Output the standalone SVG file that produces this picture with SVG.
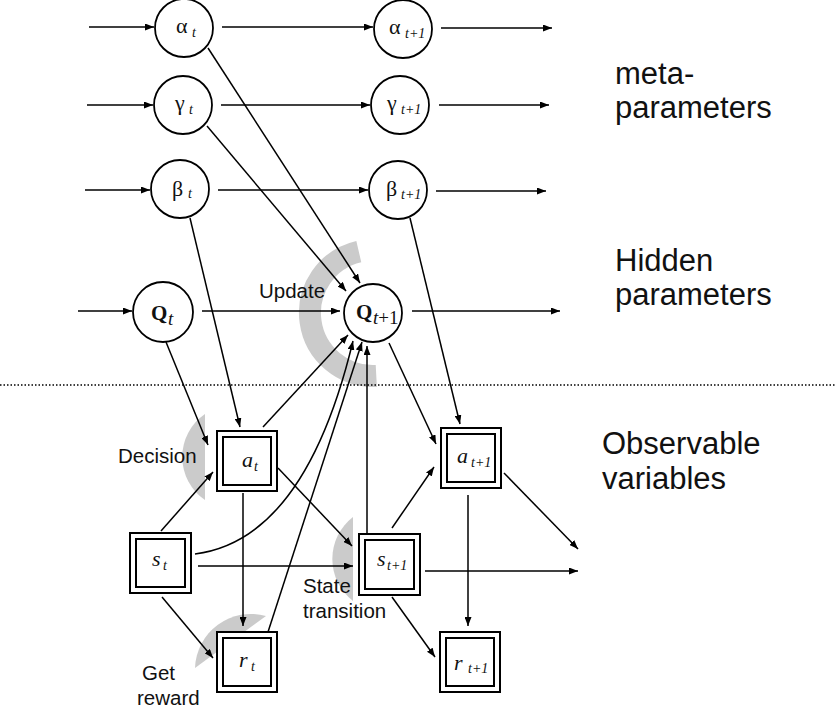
<svg xmlns="http://www.w3.org/2000/svg" width="835" height="715" viewBox="0 0 835 715">
  <style>
    .edge { stroke: #000; stroke-width: 1.5; fill: none; marker-end: url(#arrow); }
    .circ { fill: #fff; stroke: #000; stroke-width: 1.8; }
    .box { fill: #fff; stroke: #000; stroke-width: 2; }
    .shade { fill: #cbcbcb; stroke: none; }
    .ring { fill: none; stroke: #cbcbcb; stroke-width: 22; }
    .greek { font-family: "Liberation Serif", "Times New Roman", serif; font-size: 22px; fill: #111; }
    .var { font-family: "Liberation Serif", "Times New Roman", serif; font-style: italic; font-size: 22px; fill: #111; }
    .sub { font-family: "Liberation Serif", "Times New Roman", serif; font-style: italic; font-size: 14px; fill: #111; }
    .qbold { font-family: "Liberation Serif", "Times New Roman", serif; font-weight: bold; font-size: 21px; fill: #111; }
    .qsub { font-family: "Liberation Serif", "Times New Roman", serif; font-size: 19px; fill: #111; }
    .note { font-family: "Liberation Sans", Arial, sans-serif; font-size: 20.5px; fill: #111; }
    .layer { font-family: "Liberation Sans", Arial, sans-serif; font-size: 31px; fill: #111; }
  </style>
  <defs>
    <marker id="arrow" markerUnits="userSpaceOnUse" markerWidth="9" markerHeight="7" refX="9" refY="3.5" orient="auto">
      <path d="M0,0 L9,3.5 L0,7 Z" fill="#000"/>
    </marker>
  </defs>

  <!-- process highlights -->
  <g id="highlights">
    <path class="ring" d="M358.8,251.6 A63,63 0 0 0 376.3,375.9"/>
    <path class="shade" d="M205,414 A52,52 0 0 0 205,500 Z"/>
    <path class="shade" d="M353,517 A53,53 0 0 0 353,601 Z"/>
    <path class="shade" d="M195,668 A56,56 0 0 1 266,616 Z"/>
  </g>

  <!-- layer separator -->
  <line x1="0" y1="385" x2="835" y2="385" stroke="#000" stroke-width="1.3" stroke-dasharray="1.5 2"/>

  <g id="connectors">
    <!-- meta-parameter chains -->
    <line class="edge" x1="89" y1="27" x2="154" y2="27"/>
    <line class="edge" x1="222" y1="27" x2="373" y2="27"/>
    <line class="edge" x1="441" y1="28" x2="552" y2="28"/>
    <line class="edge" x1="87" y1="105" x2="153" y2="105"/>
    <line class="edge" x1="221" y1="105" x2="370" y2="105"/>
    <line class="edge" x1="439" y1="105" x2="549" y2="105"/>
    <line class="edge" x1="85" y1="190" x2="150" y2="190"/>
    <line class="edge" x1="218" y1="190" x2="368" y2="190"/>
    <line class="edge" x1="436" y1="191" x2="546" y2="191"/>
    <!-- meta-parameters into the update -->
    <line class="edge" x1="208" y1="48" x2="360" y2="283"/>
    <line class="edge" x1="207" y1="126" x2="346" y2="291"/>
    <!-- inverse temperature into decisions -->
    <line class="edge" x1="190" y1="218" x2="240" y2="427"/>
    <line class="edge" x1="410" y1="218" x2="460" y2="424"/>
    <!-- hidden chain -->
    <line class="edge" x1="78" y1="311" x2="132" y2="311"/>
    <line class="edge" x1="202" y1="311" x2="340" y2="311"/>
    <line class="edge" x1="412" y1="311" x2="560" y2="311"/>
    <line class="edge" x1="166" y1="342" x2="208" y2="445"/>
    <line class="edge" x1="389" y1="343" x2="436" y2="444"/>
    <!-- observations into the update -->
    <line class="edge" x1="263" y1="427" x2="348" y2="335"/>
    <path class="edge" d="M195,554 Q305,540 353,341"/>
    <line class="edge" x1="268" y1="632" x2="362" y2="342"/>
    <line class="edge" x1="367" y1="534" x2="367" y2="346"/>
    <!-- step t -->
    <line class="edge" x1="161" y1="531" x2="213" y2="472"/>
    <line class="edge" x1="198" y1="566" x2="353" y2="566"/>
    <line class="edge" x1="162" y1="597" x2="213" y2="658"/>
    <line class="edge" x1="243" y1="493" x2="243" y2="626"/>
    <line class="edge" x1="278" y1="468" x2="352" y2="546"/>
    <!-- step t+1 -->
    <line class="edge" x1="392" y1="528" x2="434" y2="467"/>
    <line class="edge" x1="392" y1="597" x2="435" y2="657"/>
    <line class="edge" x1="468" y1="495" x2="468" y2="626"/>
    <line class="edge" x1="504" y1="473" x2="578" y2="549"/>
    <line class="edge" x1="425" y1="571" x2="578" y2="571"/>
  </g>

  <!-- meta-parameters -->
  <g id="alpha-t">
    <circle class="circ" cx="184" cy="28" r="29"/>
    <text class="greek" x="176" y="33">α</text><text class="sub" x="192" y="37">t</text>
  </g>
  <g id="alpha-t1">
    <circle class="circ" cx="403" cy="29" r="29"/>
    <text class="greek" x="389" y="34">α</text><text class="sub" x="405" y="38">t+1</text>
  </g>
  <g id="gamma-t">
    <circle class="circ" cx="183" cy="105" r="29"/>
    <text class="greek" x="175" y="110">γ</text><text class="sub" x="189" y="114">t</text>
  </g>
  <g id="gamma-t1">
    <circle class="circ" cx="400" cy="105" r="29"/>
    <text class="greek" x="387" y="110">γ</text><text class="sub" x="401" y="114">t+1</text>
  </g>
  <g id="beta-t">
    <circle class="circ" cx="180" cy="189" r="29"/>
    <text class="greek" x="172" y="196">β</text><text class="sub" x="188" y="198">t</text>
  </g>
  <g id="beta-t1">
    <circle class="circ" cx="398" cy="190" r="29"/>
    <text class="greek" x="386" y="196">β</text><text class="sub" x="401" y="199">t+1</text>
  </g>

  <!-- hidden parameters -->
  <g id="q-t">
    <circle class="circ" cx="163" cy="312" r="30"/>
    <text class="qbold" x="151" y="320">Q</text><text class="qsub" x="168" y="325" font-style="italic">t</text>
  </g>
  <g id="q-t1">
    <circle class="circ" cx="373" cy="313" r="29"/>
    <text class="qbold" x="356" y="319">Q</text><text class="qsub" x="373" y="324"><tspan font-style="italic">t</tspan>+1</text>
  </g>

  <!-- observable variables -->
  <g id="a-t">
    <rect class="box" x="217" y="431" width="60" height="60"/>
    <rect class="box" x="223" y="437" width="48" height="48"/>
    <text class="var" x="242" y="467">a</text><text class="sub" x="254" y="471">t</text>
  </g>
  <g id="s-t">
    <rect class="box" x="130" y="533" width="61" height="60"/>
    <rect class="box" x="136" y="539" width="49" height="48"/>
    <text class="var" x="152" y="566">s</text><text class="sub" x="163" y="570">t</text>
  </g>
  <g id="r-t">
    <rect class="box" x="217" y="632" width="60" height="60"/>
    <rect class="box" x="223" y="638" width="48" height="48"/>
    <text class="var" x="239" y="667">r</text><text class="sub" x="251" y="671">t</text>
  </g>
  <g id="s-t1">
    <rect class="box" x="359" y="534" width="61" height="61"/>
    <rect class="box" x="365" y="540" width="49" height="49"/>
    <text class="var" x="377" y="566">s</text><text class="sub" x="387" y="570">t+1</text>
  </g>
  <g id="a-t1">
    <rect class="box" x="441" y="428" width="60" height="60"/>
    <rect class="box" x="447" y="434" width="48" height="48"/>
    <text class="var" x="457" y="463">a</text><text class="sub" x="471" y="467">t+1</text>
  </g>
  <g id="r-t1">
    <rect class="box" x="440" y="632" width="60" height="60"/>
    <rect class="box" x="446" y="638" width="48" height="48"/>
    <text class="var" x="454" y="670">r</text><text class="sub" x="468" y="673">t+1</text>
  </g>

  <!-- process labels -->
  <g id="process-labels">
    <text class="note" x="259" y="298">Update</text>
    <text class="note" x="118" y="463">Decision</text>
    <text class="note" x="303" y="593">State</text>
    <text class="note" x="303" y="618">transition</text>
    <text class="note" x="142" y="680">Get</text>
    <text class="note" x="137" y="705">reward</text>
  </g>

  <!-- layer labels -->
  <g id="layer-labels">
    <text class="layer" x="615" y="84">meta-</text>
    <text class="layer" x="615" y="118">parameters</text>
    <text class="layer" x="615" y="271">Hidden</text>
    <text class="layer" x="615" y="305">parameters</text>
    <text class="layer" x="602" y="454">Observable</text>
    <text class="layer" x="602" y="489">variables</text>
  </g>
</svg>
